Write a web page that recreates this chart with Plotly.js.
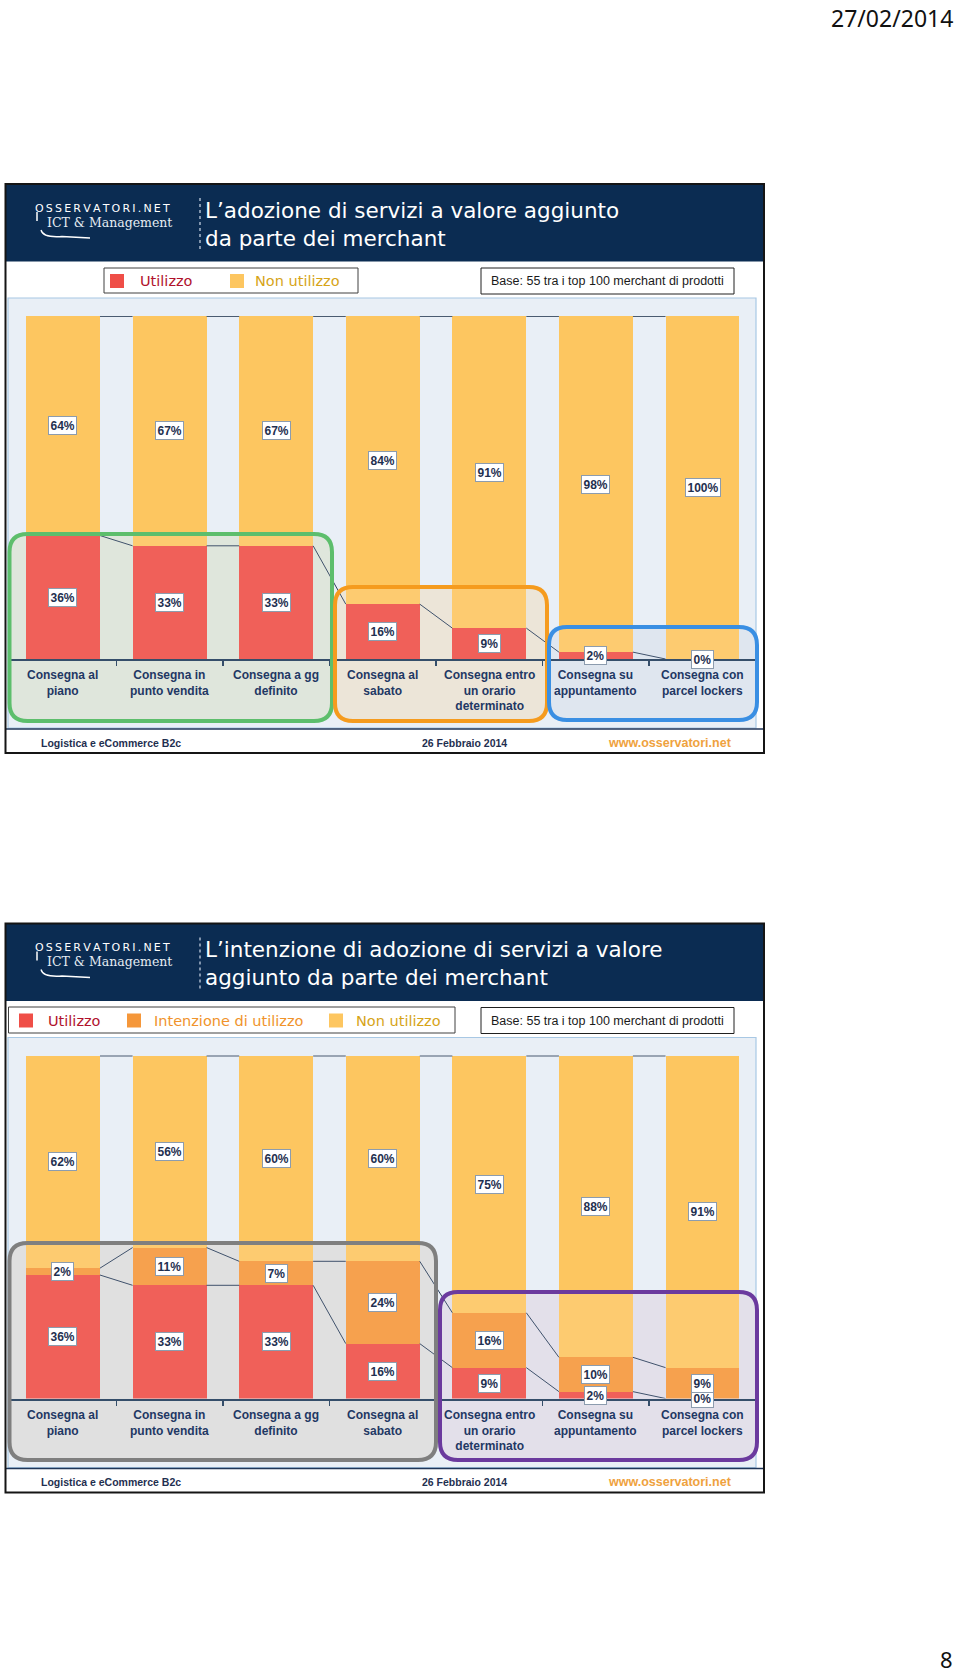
<!DOCTYPE html>
<html>
<head>
<meta charset="utf-8">
<script src="https://cdn.plot.ly/plotly-3.0.1.min.js"></script>
<style>
  html, body { margin: 0; padding: 0; background: #fff; }
  #grafico { width: 960px; height: 1676px; }
</style>
</head>
<body>
<div id="grafico"></div>
<script>
const categorie = [
  ['Consegna al', 'piano'],
  ['Consegna in', 'punto vendita'],
  ['Consegna a gg', 'definito'],
  ['Consegna al', 'sabato'],
  ['Consegna entro', 'un orario', 'determinato'],
  ['Consegna su', 'appuntamento'],
  ['Consegna con', 'parcel lockers']
];

const utilizzo1 = [36, 33, 33, 16, 9, 2, 0];
const nonUtilizzo1 = [64, 67, 67, 84, 91, 98, 100];

const utilizzo2 = [36, 33, 33, 16, 9, 2, 0];
const intenzione2 = [2, 11, 7, 24, 16, 10, 9];
const nonUtilizzo2 = [62, 56, 60, 60, 75, 88, 91];

const titolo1 = ['L\u2019adozione di servizi a valore aggiunto', 'da parte dei merchant'];
const titolo2 = ['L\u2019intenzione di adozione di servizi a valore', 'aggiunto da parte dei merchant'];
const nomiSerie = ['Utilizzo', 'Intenzione di utilizzo', 'Non utilizzo'];
const testoBase = 'Base: 55 tra i top 100 merchant di prodotti';
const piede = ['Logistica e eCommerce B2c', '26 Febbraio 2014', 'www.osservatori.net'];

const ROSSO = '#EF4E47';
const ARANCIO = '#F5973A';
const GIALLO = '#FDC660';
const NAVY = '#0B2C52';
const TESTO = '#1F3864';

const W = 960, H = 1676;
const D = 739.5;          // distanza verticale tra le due slide
const LARG = 0.694;       // larghezza barre
const px = v => v / W;
const py = v => 1 - v / H;

const shapes = [];
const annotations = [];
const traces = [];

function rett(x0, y0, x1, y1, fill, line, lw, layer) {
  shapes.push({
    type: 'rect', xref: 'paper', yref: 'paper',
    x0: px(x0), x1: px(x1), y0: py(y1), y1: py(y0),
    fillcolor: fill || 'rgba(0,0,0,0)',
    line: { color: line || 'rgba(0,0,0,0)', width: lw || 0 },
    layer: layer || 'above'
  });
}

function linea(x0, y0, x1, y1, colore, lw, dash) {
  shapes.push({
    type: 'line', xref: 'paper', yref: 'paper',
    x0: px(x0), x1: px(x1), y0: py(y0), y1: py(y1),
    line: { color: colore, width: lw, dash: dash || 'solid' },
    layer: 'above'
  });
}

function rettArrot(x0, y0, x1, y1, r, fill, line, lw, layer) {
  const X = v => px(v).toFixed(5), Y = v => py(v).toFixed(5);
  const path = `M${X(x0 + r)},${Y(y0)} L${X(x1 - r)},${Y(y0)} Q${X(x1)},${Y(y0)} ${X(x1)},${Y(y0 + r)} ` +
    `L${X(x1)},${Y(y1 - r)} Q${X(x1)},${Y(y1)} ${X(x1 - r)},${Y(y1)} L${X(x0 + r)},${Y(y1)} ` +
    `Q${X(x0)},${Y(y1)} ${X(x0)},${Y(y1 - r)} L${X(x0)},${Y(y0 + r)} Q${X(x0)},${Y(y0)} ${X(x0 + r)},${Y(y0)} Z`;
  shapes.push({
    type: 'path', xref: 'paper', yref: 'paper', path,
    fillcolor: fill || 'rgba(0,0,0,0)',
    line: { color: line || 'rgba(0,0,0,0)', width: lw || 0 },
    layer: layer || 'above'
  });
}

function testo(x, y, t, font, xa) {
  annotations.push({
    xref: 'paper', yref: 'paper', x: px(x), y: py(y),
    xanchor: xa || 'left', yanchor: 'middle',
    text: t, showarrow: false, font
  });
}

function slide(off, asse, serie, colori, titolo, legenda, riquadri) {
  const xa = 'x' + asse, ya = 'y' + asse;

  // cornice, intestazione e sfondo
  rett(8, 298 + off, 756, 728 + off, '#E9EFF6', '#A8C8E4', 1.2, 'below');
  riquadri.forEach(r => rettArrot(r.x0, r.y0 + off, r.x1, r.y1 + off, 18, r.fondo, null, 0, 'below'));

  rett(5.5, 184 + off, 764, 261.5 + off, NAVY);
  linea(200, 198 + off, 200, 249 + off, '#A9B8CC', 1.5, 'dot');
  testo(203, 210 + off, titolo[0], { family: 'DejaVu Sans, sans-serif', size: 21.5, color: '#FFFFFF' });
  testo(203, 238 + off, titolo[1], { family: 'DejaVu Sans, sans-serif', size: 21.5, color: '#FFFFFF' });
  testo(33, 208 + off, 'O\u2009S\u2009S\u2009E\u2009R\u2009V\u2009A\u2009T\u2009O\u2009R\u2009I\u2009.\u2009N\u2009E\u2009T',
    { family: 'DejaVu Sans, sans-serif', size: 11, color: '#FFFFFF' });
  testo(45, 222 + off, 'ICT & Management', { family: 'DejaVu Serif, serif', size: 12.5, color: '#E6ECF3' });
  shapes.push({
    type: 'path', xref: 'paper', yref: 'paper',
    path: `M${px(41)},${py(230 + off)} Q${px(43)},${py(238 + off)} ${px(62)},${py(236.5 + off)} L${px(90)},${py(238 + off)}`,
    line: { color: '#FFFFFF', width: 1.3 }, layer: 'above'
  });
  linea(37, 212 + off, 37, 221 + off, '#FFFFFF', 1.5);

  // legenda
  rett(legenda.box[0], legenda.box[1] + off, legenda.box[2], legenda.box[3] + off, '#FFFFFF', '#404040', 1);
  legenda.voci.forEach(v => {
    rett(v.q, 274 + off, v.q + 14, 288 + off, v.col);
    testo(v.t, 281 + off, v.nome, { family: 'DejaVu Sans, sans-serif', size: 14.5, color: v.tcol });
  });
  rett(481, 268 + off, 734, 294 + off, '#FFFFFF', '#202020', 1);
  testo(607.5, 281 + off, testoBase,
    { family: 'Liberation Sans, Arial, sans-serif', size: 12.5, color: '#1A1A1A' }, 'center');

  // piede
  linea(6, 729 + off, 764, 729 + off, '#1F3558', 1.5);
  testo(39, 742.5 + off, '<b>' + piede[0] + '</b>', { family: 'Liberation Sans, Arial, sans-serif', size: 10.5, color: '#1F2F50' });
  testo(464, 742.5 + off, '<b>' + piede[1] + '</b>', { family: 'Liberation Sans, Arial, sans-serif', size: 10.5, color: '#1F2F50' }, 'center');
  testo(670, 742.5 + off, '<b>' + piede[2] + '</b>', { family: 'Liberation Sans, Arial, sans-serif', size: 12.5, color: '#EFA23E' }, 'center');
  rett(5.5, 184 + off, 764, 753 + off, null, '#151515', 2);

  // barre impilate
  const xs = categorie.map((c, i) => i);
  serie.forEach((s, k) => {
    traces.push({
      type: 'bar', x: xs, y: s, width: LARG, xaxis: xa, yaxis: ya,
      marker: { color: colori[k], line: { width: 0 } },
      hoverinfo: 'skip', showlegend: false
    });
  });

  // linee di serie tra le barre
  const cum = [];
  serie.forEach((s, k) => cum.push(s.map((v, i) => v + (k ? cum[k - 1][i] : 0))));
  cum.forEach((c, k) => {
    const lx = [], ly = [];
    for (let i = 0; i < c.length - 1; i++) {
      lx.push(i + LARG / 2, i + 1 - LARG / 2, null);
      ly.push(c[i], c[i + 1], null);
    }
    const top = k === cum.length - 1;
    traces.push({
      type: 'scatter', mode: 'lines', x: lx, y: ly, xaxis: xa, yaxis: ya,
      line: { color: top ? '#4A5B70' : '#2B3F5C', width: top ? 2 : 1 },
      hoverinfo: 'skip', showlegend: false, cliponaxis: false
    });
  });

  // etichette dei valori
  serie.forEach((s, k) => {
    s.forEach((v, i) => {
      const base = k ? cum[k - 1][i] : 0;
      annotations.push({
        xref: xa, yref: ya, x: i, y: base + v / 2,
        text: '<b>' + v + '%</b>', showarrow: false,
        bgcolor: '#FFFFFF', bordercolor: '#8C9CAE', borderwidth: 1, borderpad: 1.5,
        font: { family: 'Liberation Sans, Arial, sans-serif', size: 12, color: '#1F3050' }
      });
    });
  });

  // etichette delle categorie
  categorie.forEach((c, i) => {
    annotations.push({
      xref: xa, yref: 'paper', x: i, y: py(666 + off), yanchor: 'top',
      text: '<b>' + c.join('<br>') + '</b>', showarrow: false,
      font: { family: 'Liberation Sans, Arial, sans-serif', size: 12, color: TESTO }
    });
  });

  // riquadri colorati
  riquadri.forEach(r => {
    rettArrot(r.x0, r.y0 + off, r.x1, r.y1 + off, 18, 'rgba(255,255,255,0.1)', r.bordo, 4, 'above');
  });
}

slide(0, '', [utilizzo1, nonUtilizzo1], [ROSSO, GIALLO], titolo1,
  {
    box: [104, 268, 358, 293],
    voci: [
      { q: 110, t: 138, nome: nomiSerie[0], col: ROSSO, tcol: '#B0122C' },
      { q: 230, t: 253, nome: nomiSerie[2], col: GIALLO, tcol: '#D6A418' }
    ]
  },
  [
    { x0: 9.5, y0: 534, x1: 332, y1: 721, bordo: '#5DBE6C', fondo: '#DCE4D8' },
    { x0: 335, y0: 587, x1: 547, y1: 721, bordo: '#F59B1E', fondo: '#EAE3D4' },
    { x0: 549, y0: 627, x1: 757, y1: 720, bordo: '#3A8FE3', fondo: '#DCE4EE' }
  ]);

slide(D, '2', [utilizzo2, intenzione2, nonUtilizzo2], [ROSSO, ARANCIO, GIALLO], titolo2,
  {
    box: [8.5, 267.5, 455, 293.5],
    voci: [
      { q: 19, t: 46, nome: nomiSerie[0], col: ROSSO, tcol: '#B0122C' },
      { q: 127, t: 152, nome: nomiSerie[1], col: ARANCIO, tcol: '#F0932B' },
      { q: 329, t: 354, nome: nomiSerie[2], col: GIALLO, tcol: '#D6A418' }
    ]
  },
  [
    { x0: 9.5, y0: 503.5, x1: 436, y1: 720.5, bordo: '#7F7F7F', fondo: '#DDDDDD' },
    { x0: 440, y0: 552.5, x1: 757, y1: 720.5, bordo: '#6B3A9E', fondo: '#E0DDE8' }
  ]);

testo(955, 18, '27/02/2014', { family: 'Noto Sans, sans-serif', size: 23, color: '#111111' }, 'right');
testo(955, 1659, '8', { family: 'Noto Sans, sans-serif', size: 22, color: '#111111' }, 'right');

const asseX = d => ({
  domain: [px(9.7), px(755.8)], range: [-0.5, 6.5], anchor: d,
  showgrid: false, zeroline: false, showline: true, linecolor: '#1F3A5A', linewidth: 2,
  ticks: 'outside', tickvals: [0.5, 1.5, 2.5, 3.5, 4.5, 5.5], ticklen: 5, tickwidth: 1.5,
  tickcolor: '#1F3A5A', showticklabels: false, fixedrange: true
});
const asseY = (top, d) => ({
  domain: [py(top + 343), py(top)], range: [0, 100], anchor: d,
  showgrid: false, zeroline: false, showline: false, showticklabels: false, ticks: '', fixedrange: true
});

const layout = {
  width: W, height: H,
  margin: { l: 0, r: 0, t: 0, b: 0 },
  paper_bgcolor: '#FFFFFF',
  plot_bgcolor: 'rgba(0,0,0,0)',
  barmode: 'stack',
  showlegend: false,
  xaxis: asseX('y'),
  yaxis: asseY(316, 'x'),
  xaxis2: asseX('y2'),
  yaxis2: asseY(316 + D, 'x2'),
  shapes,
  annotations
};

Plotly.newPlot('grafico', traces, layout, { displayModeBar: false, staticPlot: true });
</script>
</body>
</html>
